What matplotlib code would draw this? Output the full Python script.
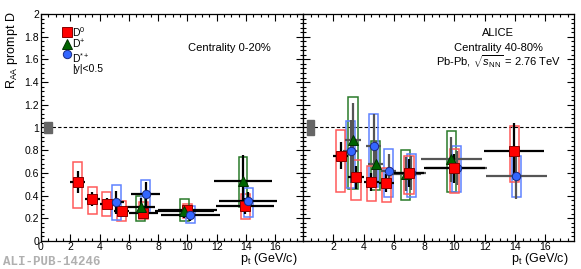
import matplotlib
matplotlib.use("Agg")
import matplotlib.pyplot as plt
from matplotlib.patches import Rectangle
from matplotlib.ticker import MultipleLocator

plt.rcParams['font.family'] = ['Liberation Sans', 'DejaVu Sans']
plt.rcParams['mathtext.fontset'] = 'custom'
plt.rcParams['mathtext.rm'] = 'Liberation Sans'
plt.rcParams['mathtext.it'] = 'Liberation Sans:italic'

# ---- centrality 0-20% ----
c1_d0_x = [2.5, 3.5, 4.5, 5.5, 7.0, 10.0, 13.95]
c1_d0_xerr = [0.5, 0.5, 0.5, 0.5, 1.0, 2.0, 2.0]
c1_d0_raa = [0.52, 0.37, 0.33, 0.26, 0.25, 0.27, 0.31]
c1_d0_stat = [0.10, 0.06, 0.045, 0.05, 0.05, 0.04, 0.07]
c1_d0_syslo = [0.29, 0.24, 0.22, 0.18, 0.19, 0.20, 0.19]
c1_d0_syshi = [0.70, 0.48, 0.43, 0.35, 0.34, 0.33, 0.41]

c1_dp_x = [6.8, 9.8, 13.8]
c1_dp_xerr = [1.0, 2.0, 2.0]
c1_dp_raa = [0.30, 0.26, 0.53]
c1_dp_stat = [0.08, 0.06, 0.23]
c1_dp_syslo = [0.18, 0.18, 0.30]
c1_dp_syshi = [0.40, 0.37, 0.74]

c1_ds_x = [5.15, 7.15, 10.2, 14.15]
c1_ds_xerr = [0.5, 1.0, 2.0, 2.0]
c1_ds_raa = [0.34, 0.41, 0.23, 0.35]
c1_ds_stat = [0.10, 0.11, 0.05, 0.08]
c1_ds_syslo = [0.185, 0.26, 0.16, 0.21]
c1_ds_syshi = [0.49, 0.54, 0.31, 0.47]

# ---- centrality 40-80% ----
c2_d0_x = [2.5, 3.5, 4.5, 5.5, 7.0, 10.0, 13.95]
c2_d0_xerr = [0.5, 0.5, 0.5, 0.5, 1.0, 2.0, 2.0]
c2_d0_raa = [0.75, 0.56, 0.52, 0.51, 0.60, 0.64, 0.79]
c2_d0_stat = [0.12, 0.10, 0.08, 0.08, 0.12, 0.13, 0.25]
c2_d0_syslo = [0.43, 0.36, 0.35, 0.34, 0.41, 0.42, 0.52]
c2_d0_syshi = [0.98, 0.71, 0.66, 0.64, 0.75, 0.81, 1.01]

c2_dp_x = [3.3, 4.8, 6.8, 9.8]
c2_dp_xerr = [0.5, 0.5, 1.0, 2.0]
c2_dp_raa = [0.89, 0.68, 0.59, 0.72]
c2_dp_stat = [0.33, 0.20, 0.15, 0.20]
c2_dp_syslo = [0.46, 0.45, 0.36, 0.43]
c2_dp_syshi = [1.27, 0.88, 0.80, 0.97]

c2_ds_x = [3.15, 4.67, 5.67, 7.15, 10.15, 14.1]
c2_ds_xerr = [0.5, 0.5, 0.5, 1.0, 2.0, 2.0]
c2_ds_raa = [0.79, 0.84, 0.62, 0.60, 0.64, 0.57]
c2_ds_stat = [0.28, 0.28, 0.15, 0.15, 0.15, 0.20]
c2_ds_syslo = [0.47, 0.48, 0.39, 0.39, 0.43, 0.385]
c2_ds_syshi = [1.06, 1.12, 0.81, 0.77, 0.84, 0.75]

red_box, green_box, blue_box = '#ff5a5a', '#2a7a2a', '#5f83ff'


def draw_species(ax, x, xerr, raa, stat, slo, shi, boxcol, marker, fc, ec, ms, errcol):
    for xi, lo, hi in zip(x, slo, shi):
        ax.add_patch(Rectangle((xi - 0.3, lo), 0.6, hi - lo, fill=False,
                               edgecolor=boxcol, lw=1.1, zorder=2))
    ax.errorbar(x, raa, xerr=xerr, yerr=stat, fmt='none', ecolor=errcol,
                elinewidth=1.6, capsize=0, zorder=3)
    ax.plot(x, raa, ls='none', marker=marker, mfc=fc, mec=ec, ms=ms, mew=0.7, zorder=4)


fig = plt.figure(figsize=(5.81, 2.69), dpi=100)
ax1 = fig.add_axes([41/581, 1-241/269, 262/581, 227/269])
ax2 = fig.add_axes([303/581, 1-241/269, 271/581, 227/269])

for ax in (ax1, ax2):
    ax.set_xlim(0, 17.9)
    ax.set_ylim(0, 2)
    ax.axhline(1, color='black', ls=(0, (3, 2)), lw=0.8, zorder=1)
    ax.xaxis.set_major_locator(MultipleLocator(2))
    ax.xaxis.set_minor_locator(MultipleLocator(0.5))
    ax.yaxis.set_major_locator(MultipleLocator(0.2))
    ax.yaxis.set_minor_locator(MultipleLocator(0.04))
    ax.tick_params(which='both', direction='in', top=True, right=True, labelsize=7.5, pad=1.5)
    ax.tick_params(axis='x', pad=0.5)
    ax.tick_params(which='major', length=5, width=0.8)
    ax.tick_params(which='minor', length=2.5, width=0.8)
    for s in ax.spines.values():
        s.set_linewidth(0.9)

ax1.set_xticks(range(0, 17, 2))
ax1.set_xticklabels([str(v) for v in range(0, 17, 2)])
ax1.set_yticks([0, 0.2, 0.4, 0.6, 0.8, 1, 1.2, 1.4, 1.6, 1.8, 2])
ax1.set_yticklabels(['0', '0.2', '0.4', '0.6', '0.8', '1', '1.2', '1.4', '1.6', '1.8', '2'])
ax2.set_xticks(range(2, 17, 2))
ax2.set_xticklabels([str(v) for v in range(2, 17, 2)])
ax2.tick_params(labelleft=False)

# normalisation boxes
ax1.add_patch(Rectangle((0.2, 0.95), 0.55, 0.10, color='#666666', zorder=2))
ax2.add_patch(Rectangle((0.27, 0.93), 0.46, 0.14, color='#666666', zorder=2))

draw_species(ax1, c1_d0_x, c1_d0_xerr, c1_d0_raa, c1_d0_stat, c1_d0_syslo, c1_d0_syshi,
             red_box, 's', '#ff0000', '#8a0000', 6.5, 'black')
draw_species(ax1, c1_dp_x, c1_dp_xerr, c1_dp_raa, c1_dp_stat, c1_dp_syslo, c1_dp_syshi,
             green_box, '^', '#006400', '#003000', 7, 'black')
draw_species(ax1, c1_ds_x, c1_ds_xerr, c1_ds_raa, c1_ds_stat, c1_ds_syslo, c1_ds_syshi,
             blue_box, 'o', '#3366ff', '#1a2a80', 6, 'black')

draw_species(ax2, c2_dp_x, c2_dp_xerr, c2_dp_raa, c2_dp_stat, c2_dp_syslo, c2_dp_syshi,
             green_box, '^', '#006400', '#003000', 7, '#555555')
draw_species(ax2, c2_ds_x, c2_ds_xerr, c2_ds_raa, c2_ds_stat, c2_ds_syslo, c2_ds_syshi,
             blue_box, 'o', '#3366ff', '#1a2a80', 6, '#555555')
draw_species(ax2, c2_d0_x, c2_d0_xerr, c2_d0_raa, c2_d0_stat, c2_d0_syslo, c2_d0_syshi,
             red_box, 's', '#ff0000', '#8a0000', 6.5, 'black')

# legend
ax1.plot([1.77], [1.84], marker='s', ls='none', mfc='#ff0000', mec='#8a0000', ms=6.5, mew=0.7)
ax1.plot([1.77], [1.74], marker='^', ls='none', mfc='#006400', mec='#003000', ms=7, mew=0.7)
ax1.plot([1.77], [1.645], marker='o', ls='none', mfc='#3366ff', mec='#1a2a80', ms=6, mew=0.7)
ax1.text(2.15, 1.905, 'D$^{0}$\nD$^{+}$\nD$^{*+}$\n|y|<0.5', fontsize=7.5,
         va='top', ha='left', linespacing=0.95)

ax1.text(12.9, 1.70, 'Centrality 0-20%', fontsize=8, ha='center', va='center')
ax2.text(12.9, 1.83, 'ALICE', fontsize=8, ha='center', va='center')
ax2.text(12.9, 1.70, 'Centrality 40-80%', fontsize=8, ha='center', va='center')
ax2.text(12.9, 1.58, r'Pb-Pb, $\sqrt{s_{\rm NN}}$ = 2.76 TeV', fontsize=8, ha='center', va='center')

fig.text(298/581, 1-259/269, r'p$_{\rm t}$ (GeV/c)', fontsize=9, ha='right', va='center')
fig.text(569/581, 1-259/269, r'p$_{\rm t}$ (GeV/c)', fontsize=9, ha='right', va='center')
fig.text(12/581, 1-12/269, r'R$_{\rm AA}$ prompt D', fontsize=9, rotation=90, ha='center', va='top')
fig.text(3/581, 1-262/269, 'ALI-PUB-14246', fontsize=9, color='#b0b0b0',
         family='Liberation Mono', weight='bold', ha='left', va='center')

fig.savefig('out.png', dpi=100)
